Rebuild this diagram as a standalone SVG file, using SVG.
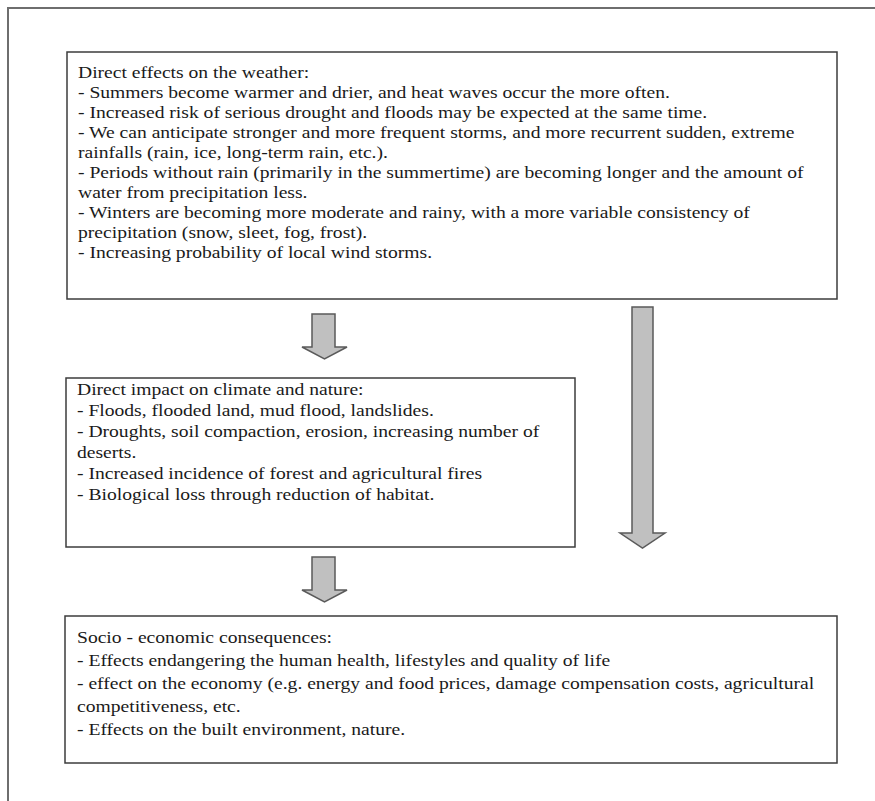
<svg xmlns="http://www.w3.org/2000/svg" width="875" height="801" viewBox="0 0 875 801">
<style>
.frame{fill:none;stroke:#6e6e6e;stroke-width:2}
.box{fill:#ffffff;stroke:#3c3c3c;stroke-width:1.5}
.arr{fill:#c0c0c0;stroke:#5a5a5a;stroke-width:1.5;stroke-linejoin:miter}
text{font-family:"Liberation Serif","Times New Roman",serif;font-size:16px;fill:#1a1a1a}
</style>
<rect x="0" y="0" width="875" height="801" fill="#ffffff"/>
<rect class="frame" x="8" y="8" width="900" height="900"/>
<g id="connectors">
<polygon class="arr" points="312,314 335,314 335,347 347,347 324.5,359 302,347 312,347"/>
<polygon class="arr" points="632,307 653,307 653,533 665,533 642.5,548 620,533 632,533"/>
<polygon class="arr" points="312,557 335,557 335,590 347,590 324.5,602 302,590 312,590"/>
</g>
<g id="weather">
<rect class="box" x="67" y="52" width="770" height="247"/>
<g transform="translate(78 0) scale(1.225 1)">
<text x="0" y="78">Direct effects on the weather:</text>
<text x="0" y="98">- Summers become warmer and drier, and heat waves occur the more often.</text>
<text x="0" y="118">- Increased risk of serious drought and floods may be expected at the same time.</text>
<text x="0" y="138">- We can anticipate stronger and more frequent storms, and more recurrent sudden, extreme</text>
<text x="0" y="158">rainfalls (rain, ice, long-term rain, etc.).</text>
<text x="0" y="178">- Periods without rain (primarily in the summertime) are becoming longer and the amount of</text>
<text x="0" y="198">water from precipitation less.</text>
<text x="0" y="218">- Winters are becoming more moderate and rainy, with a more variable consistency of</text>
<text x="0" y="238">precipitation (snow, sleet, fog, frost).</text>
<text x="0" y="258">- Increasing probability of local wind storms.</text>
</g>
</g>
<g id="nature">
<rect class="box" x="66" y="378" width="509" height="169"/>
<g transform="translate(77 0) scale(1.225 1)">
<text x="0" y="395">Direct impact on climate and nature:</text>
<text x="0" y="416">- Floods, flooded land, mud flood, landslides.</text>
<text x="0" y="437">- Droughts, soil compaction, erosion, increasing number of</text>
<text x="0" y="458">deserts.</text>
<text x="0" y="479">- Increased incidence of forest and agricultural fires</text>
<text x="0" y="500">- Biological loss through reduction of habitat.</text>
</g>
</g>
<g id="socio">
<rect class="box" x="65" y="616" width="772" height="147"/>
<g transform="translate(77 0) scale(1.225 1)">
<text x="0" y="643">Socio - economic consequences:</text>
<text x="0" y="666">- Effects endangering the human health, lifestyles and quality of life</text>
<text x="0" y="689">- effect on the economy (e.g. energy and food prices, damage compensation costs, agricultural</text>
<text x="0" y="712">competitiveness, etc.</text>
<text x="0" y="735">- Effects on the built environment, nature.</text>
</g>
</g>
</svg>
